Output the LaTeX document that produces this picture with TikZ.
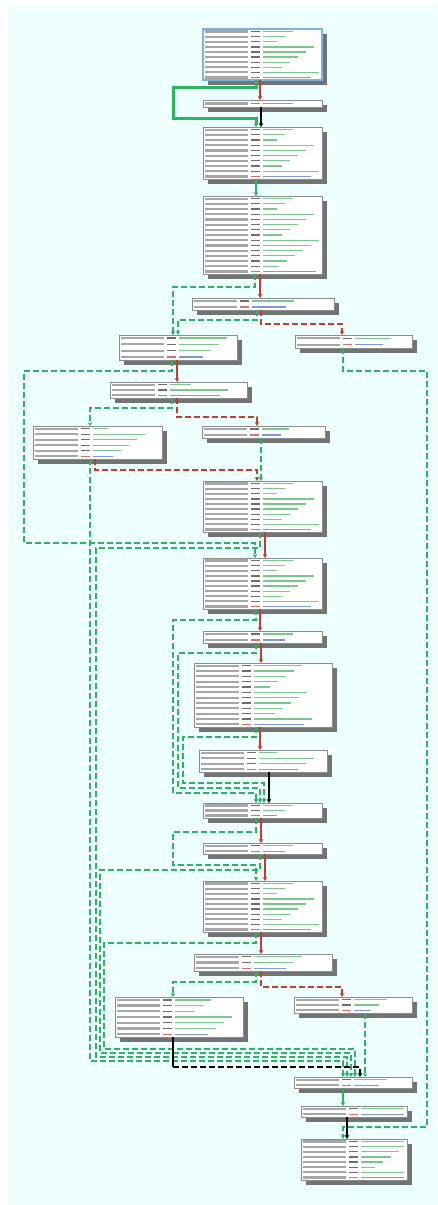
\documentclass[tikz,border=0pt]{standalone}
\usetikzlibrary{arrows.meta}
\definecolor{bgc}{RGB}{238,255,255}
\definecolor{shadowc}{RGB}{112,116,114}
\definecolor{edgegreen}{RGB}{45,180,95}
\definecolor{edgered}{RGB}{200,60,45}
\definecolor{opgreen}{RGB}{120,200,140}
\definecolor{opblue}{RGB}{125,150,230}
\definecolor{mnred}{RGB}{220,110,100}
\definecolor{mngray}{RGB}{110,110,110}
\definecolor{selc}{RGB}{125,180,220}
\tikzset{
  blkbox/.style={draw=black!45,line width=1pt,fill=white,inner sep=0pt,outer sep=0pt},
  addr/.style={line width=2.2pt,black!35},
  ed/.style={line width=1.6pt,-{Stealth[length=4pt,width=4.5pt]}},
  gd/.style={ed,edgegreen,dash pattern=on 6pt off 3pt},
  gs/.style={ed,edgegreen},
  rs/.style={ed,edgered},
  rd/.style={ed,edgered,dash pattern=on 6pt off 3pt},
  ks/.style={ed,black},
  kd/.style={ed,black,dash pattern=on 6pt off 3pt},
  kl/.style={line width=1.6pt,black}
}
\newcommand\blk[6]{%
  \fill[shadowc] ({#2+5},{#3+5}) rectangle ({#4+5},{#5+5});
  \node[blkbox,anchor=north west,minimum width={#4pt-#2pt},minimum height={#5pt-#3pt}] (#1) at (#2,#3) {};
  \foreach \i in {1,...,#6}{%
    \pgfmathsetmacro\yy{#3+(\i-0.5)*(#5-#3)/#6}
    \pgfmathsetmacro\ww{14+mod(\i*37+#2*3,45)}
    \pgfmathsetmacro\xe{min(#2+60+\ww,#4-3)}
    \draw[addr] ({#2+2},\yy) -- ({#2+45},\yy);
    \ifnum\i=#6 \def\mc{mnred}\def\oc{opblue}\else\def\mc{mngray}\def\oc{opgreen}\fi
    \draw[line width=1.3pt,\mc] ({#2+48},\yy) -- ({#2+57},\yy);
    \draw[line width=1.3pt,\oc] ({#2+60},\yy) -- (\xe,\yy);
  }%
}
\begin{document}
\begin{tikzpicture}[x=1pt,y=-1pt]
\useasboundingbox (0,0) rectangle (437,1205);
\fill[white] (0,0) rectangle (437,1205);
\fill[bgc] (8,6) rectangle (437,1205);
% blocks
\blk{B1}{203}{29}{322}{80}{10}
\draw[selc,line width=1.2pt] (B1.north west) rectangle (B1.south east);
\blk{B2}{203}{100}{322}{107}{1}
\blk{B3}{203}{127}{322}{179}{10}
\blk{B4}{203}{196}{322}{274}{15}
\blk{B5}{192}{298}{334}{310}{2}
\blk{B6}{119}{335}{237}{360}{4}
\blk{B7}{295}{335}{412}{348}{2}
\blk{B8}{110}{382}{247}{398}{3}
\blk{B9}{33}{426}{162}{459}{6}
\blk{B10}{202}{426}{325}{438}{2}
\blk{B11}{203}{481}{322}{532}{10}
\blk{B12}{203}{558}{322}{609}{10}
\blk{B13}{203}{631}{322}{643}{2}
\blk{B14}{194}{663}{332}{727}{12}
\blk{B15}{199}{750}{327}{772}{4}
\blk{B16}{203}{803}{322}{818}{3}
\blk{B17}{203}{843}{322}{854}{2}
\blk{B18}{203}{881}{322}{932}{10}
\blk{B19}{194}{954}{332}{971}{3}
\blk{B20}{115}{997}{243}{1037}{7}
\blk{B21}{294}{997}{412}{1013}{3}
\blk{B22}{294}{1077}{412}{1088}{2}
\blk{B23}{301}{1106}{407}{1117}{2}
\blk{B24}{301}{1139}{407}{1180}{8}
% edges
\draw[rs] (260,0 |- B1.south) -- (260,0 |- B2.north);
\draw[gs,line width=3pt] (256,0 |- B1.south) -- (256,87) -- (173,87) -- (173,118) -- (256,118) -- (256,0 |- B3.north);
\draw[ks] (261,0 |- B2.south) -- (261,0 |- B3.north);
\draw[gs] (256,0 |- B3.south) -- (256,0 |- B4.north);
\draw[rs] (260,0 |- B4.south) -- (260,0 |- B5.north);
\draw[gd] (255,0 |- B4.south) -- (255,287) -- (173,287) -- (173,0 |- B6.north);
\draw[gd] (257,0 |- B5.south) -- (257,320) -- (178,320) -- (178,0 |- B6.north);
\draw[rd] (261,0 |- B5.south) -- (261,324) -- (342,324) -- (342,0 |- B7.north);
\draw[rs] (177,0 |- B6.south) -- (177,0 |- B8.north);
\draw[gd] (172,0 |- B6.south) -- (172,371) -- (24,371) -- (24,543) -- (255,543) -- (255,0 |- B12.north);
\draw[gd] (343,0 |- B7.south) -- (343,371) -- (427,371) -- (427,1127) -- (343,1127) -- (343,0 |- B24.north);
\draw[gd] (172,0 |- B8.south) -- (172,408) -- (90,408) -- (90,0 |- B9.north);
\draw[rd] (177,0 |- B8.south) -- (177,417) -- (257,417) -- (257,0 |- B10.north);
\draw[gd] (90,0 |- B9.south) -- (90,1061) -- (343,1061) -- (343,0 |- B22.north);
\draw[rd] (95,0 |- B9.south) -- (95,470) -- (257,470) -- (257,0 |- B11.north);
\draw[gd] (261,0 |- B10.south) -- (261,0 |- B11.north);
\draw[rs] (265,0 |- B11.south) -- (265,0 |- B12.north);
\draw[gd] (260,0 |- B11.south) -- (260,548) -- (96,548) -- (96,1057) -- (347,1057) -- (347,0 |- B22.north);
\draw[rs] (260,0 |- B12.south) -- (260,0 |- B13.north);
\draw[gd] (256,0 |- B12.south) -- (256,620) -- (173,620) -- (173,793) -- (256,793) -- (256,0 |- B16.north);
\draw[rs] (261,0 |- B13.south) -- (261,0 |- B14.north);
\draw[gd] (256,0 |- B13.south) -- (256,653) -- (178,653) -- (178,788) -- (260,788) -- (260,0 |- B16.north);
\draw[rs] (260,0 |- B14.south) -- (260,0 |- B15.north);
\draw[gd] (256,0 |- B14.south) -- (256,737) -- (183,737) -- (183,783) -- (264,783) -- (264,0 |- B16.north);
\draw[ks] (269,0 |- B15.south) -- (269,0 |- B16.north);
\draw[rs] (261,0 |- B16.south) -- (261,0 |- B17.north);
\draw[gd] (256,0 |- B16.south) -- (256,832) -- (173,832) -- (173,865) -- (256,865) -- (256,0 |- B18.north);
\draw[rs] (265,0 |- B17.south) -- (265,0 |- B18.north);
\draw[gd] (260,0 |- B17.south) -- (260,870) -- (100,870) -- (100,1053) -- (351,1053) -- (351,0 |- B22.north);
\draw[rs] (261,0 |- B18.south) -- (261,0 |- B19.north);
\draw[gd] (256,0 |- B18.south) -- (256,943) -- (104,943) -- (104,1049) -- (355,1049) -- (355,0 |- B22.north);
\draw[gd] (256,0 |- B19.south) -- (256,982) -- (173,982) -- (173,0 |- B20.north);
\draw[rd] (261,0 |- B19.south) -- (261,987) -- (342,987) -- (342,0 |- B21.north);
\draw[kl] (173,0 |- B20.south) -- (173,1067) coordinate (k20);
\draw[kd] (k20) -- (360,1067) -- (360,0 |- B22.north);
\draw[gd] (365,0 |- B21.south) -- (365,0 |- B22.north);
\draw[gs] (343,0 |- B22.south) -- (343,0 |- B23.north);
\draw[ks] (347,0 |- B23.south) -- (347,0 |- B24.north);
\end{tikzpicture}
\end{document}
